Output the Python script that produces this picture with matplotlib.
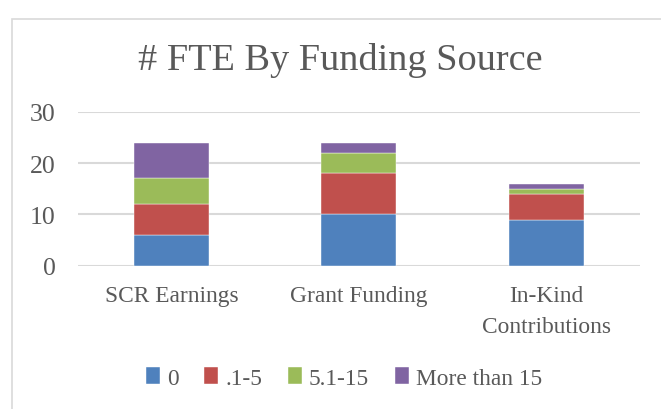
import matplotlib
matplotlib.use("Agg")
import matplotlib.pyplot as plt
from matplotlib.patches import Rectangle
import numpy as np

categories = ["SCR Earnings", "Grant Funding", "In-Kind\nContributions"]
series_names = ["0", ".1-5", "5.1-15", "More than 15"]
s_0 = [6, 10, 9]
s_1_5 = [6, 8, 5]
s_5_15 = [5, 4, 1]
s_15p = [7, 2, 1]
yticks = [0, 10, 20, 30]

colors = ["#4F81BD", "#C0504D", "#9BBB59", "#8064A2"]
txt = "#595959"
plt.rcParams['font.family'] = ['Liberation Serif', 'DejaVu Serif']

fig = plt.figure(figsize=(6.61, 4.10), dpi=100)
fig.patch.set_facecolor("white")
fig.patches.append(Rectangle((12/661, -0.05), 1.0, 0.952 + 0.05, transform=fig.transFigure,
                             fill=False, edgecolor="#D9D9D9", linewidth=1.2))

ax = fig.add_axes([0.1174, 0.3495, 0.851, 0.3756])
x = np.arange(len(categories))
bottom = np.zeros(len(categories))
for name, vals, c in zip(series_names, [s_0, s_1_5, s_5_15, s_15p], colors):
    ax.bar(x, vals, width=0.4, bottom=bottom, color=c, label=name, zorder=3,
           edgecolor="white", linewidth=0.3)
    bottom += np.array(vals)

ax.set_xlim(-0.5, 2.5)
ax.set_ylim(0, 30)
ax.set_yticks(yticks)
ax.set_yticklabels([str(v) for v in yticks], fontsize=18.5, color=txt)
ax.set_xticks(x)
ax.set_xticklabels(categories, fontsize=16.8, color=txt, linespacing=1.6, va="top")
ax.tick_params(axis="y", length=0, pad=16)
ax.tick_params(axis="x", length=0, pad=14)
ax.grid(axis="y", color="#D9D9D9", linewidth=1.5, zorder=0)
for s in ax.spines.values():
    s.set_visible(False)

fig.text(340/661, 1 - 60/410, "# FTE By Funding Source", ha="center", va="center",
         fontsize=27.5, color=txt)

fig.legend(loc="center", bbox_to_anchor=(344/661, 1 - 379/410), ncol=4, frameon=False,
           fontsize=16.8, labelcolor=txt, handlelength=0.6, handleheight=0.7,
           handletextpad=0.3, columnspacing=1.1)

fig.savefig("out.png", dpi=100)
